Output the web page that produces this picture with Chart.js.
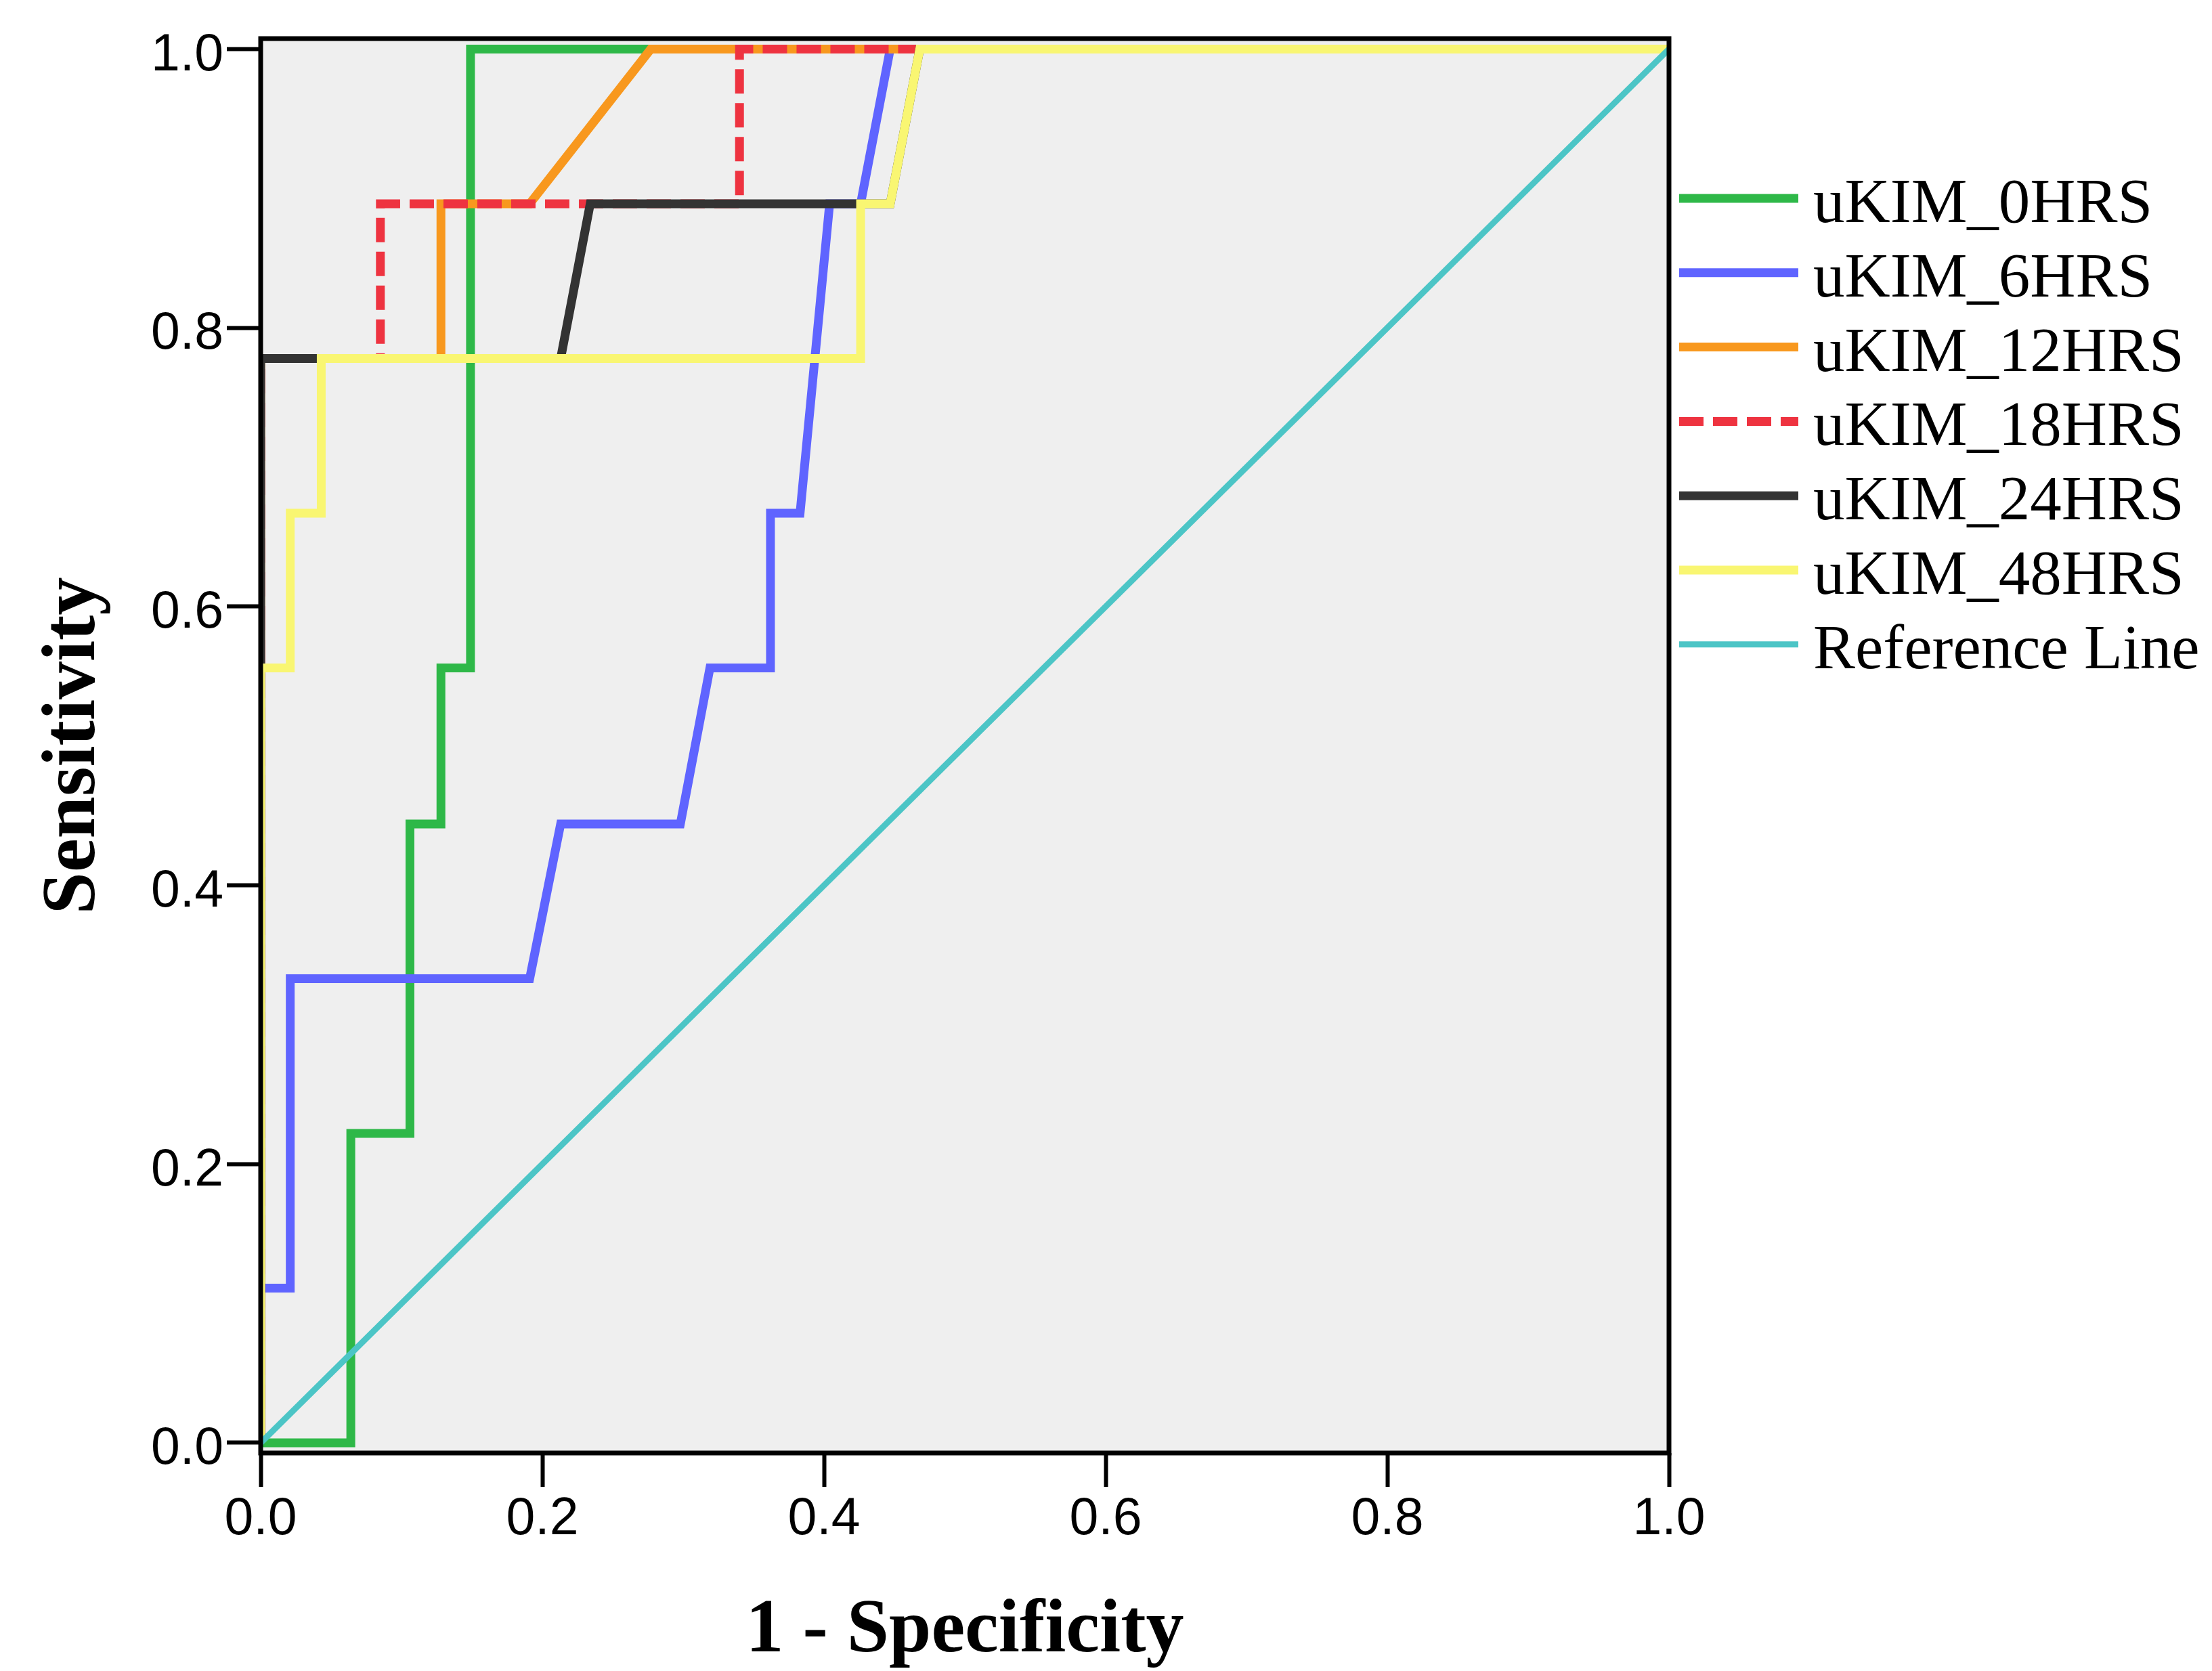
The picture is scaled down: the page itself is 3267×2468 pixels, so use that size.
<!DOCTYPE html>
<html>
<head>
<meta charset="utf-8">
<title>ROC curves - uKIM</title>
<script src="https://cdn.jsdelivr.net/npm/chart.js@4.4.1/dist/chart.umd.min.js"></script>
<style>
  html, body { margin: 0; padding: 0; background: #fff; }
  canvas { display: block; }
</style>
</head>
<body>
<canvas id="rocChart" width="3267" height="2468"></canvas>
<script>
// tick labels
const xTicks = [0.0, 0.2, 0.4, 0.6, 0.8, 1.0];
const yTicks = [0.0, 0.2, 0.4, 0.6, 0.8, 1.0];

const seriesNames = ['uKIM_0HRS', 'uKIM_6HRS', 'uKIM_12HRS', 'uKIM_18HRS', 'uKIM_24HRS', 'uKIM_48HRS', 'Reference Line'];

// 1 - specificity (x) and sensitivity (y), one pair per corner of each curve
const fpr0  = [0, 0.064, 0.064, 0.106, 0.106, 0.128, 0.128, 0.149, 0.149, 1.0];
const sens0 = [0, 0,     0.222, 0.222, 0.444, 0.444, 0.556, 0.556, 1.0,   1.0];

const fpr6  = [0, 0,     0.021, 0.021, 0.191, 0.213, 0.298, 0.319, 0.362, 0.362, 0.383, 0.404, 0.426, 0.447, 1.0];
const sens6 = [0, 0.111, 0.111, 0.333, 0.333, 0.444, 0.444, 0.556, 0.556, 0.667, 0.667, 0.889, 0.889, 1.0,   1.0];

const fpr12  = [0, 0,     0.128, 0.128, 0.191, 0.277, 1.0];
const sens12 = [0, 0.778, 0.778, 0.889, 0.889, 1.0,   1.0];

const fpr18  = [0, 0,     0.085, 0.085, 0.340, 0.340, 1.0];
const sens18 = [0, 0.778, 0.778, 0.889, 0.889, 1.0,   1.0];

const fpr24  = [0, 0,     0.213, 0.234, 0.447, 0.468, 1.0];
const sens24 = [0, 0.778, 0.778, 0.889, 0.889, 1.0,   1.0];

const fpr48  = [0, 0,     0.021, 0.021, 0.043, 0.043, 0.426, 0.426, 0.447, 0.468, 1.0];
const sens48 = [0, 0.556, 0.556, 0.667, 0.667, 0.778, 0.778, 0.889, 0.889, 1.0,   1.0];

const fprRef  = [0, 1.0];
const sensRef = [0, 1.0];

const lineColors = ['#2eb848', '#5f64ff', '#f8981e', '#ee3340', '#333333', '#f9f672', '#4cc5c6'];

function pts(xs, ys) {
    return xs.map((x, i) => ({x: x, y: ys[i]}));
}

const curves = [
    pts(fpr0, sens0), pts(fpr6, sens6), pts(fpr12, sens12), pts(fpr18, sens18),
    pts(fpr24, sens24), pts(fpr48, sens48), pts(fprRef, sensRef)
];

// later series sit on top (lower order is drawn last in chart.js)
const datasets = curves.map((d, i) => ({
    label: seriesNames[i],
    data: d,
    showLine: true,
    borderColor: lineColors[i],
    backgroundColor: lineColors[i],
    borderWidth: i === 6 ? 9 : 13,
    borderDash: i === 3 ? [36, 14] : [],
    borderJoinStyle: 'miter',
    borderCapStyle: 'butt',
    pointRadius: 0,
    tension: 0,
    order: 6 - i
}));

const plotFrame = {
    id: 'plotFrame',
    beforeDatasetsDraw(chart) {
        const a = chart.chartArea, ctx = chart.ctx;
        ctx.save();
        ctx.fillStyle = '#efefef';
        ctx.fillRect(a.left, a.top, a.right - a.left, a.bottom - a.top);
        ctx.restore();
    },
    afterDatasetsDraw(chart) {
        const a = chart.chartArea, ctx = chart.ctx;
        ctx.save();
        ctx.strokeStyle = '#000';
        ctx.lineWidth = 7;
        ctx.strokeRect(a.left, a.top, a.right - a.left, a.bottom - a.top);
        ctx.restore();
    }
};

// legend drawn by hand so the line samples match the spss look
const sideLegend = {
    id: 'sideLegend',
    afterDraw(chart) {
        const a = chart.chartArea, ctx = chart.ctx;
        const x0 = a.right + 15, len = 176, y0 = a.top + 236, step = 109.8;
        ctx.save();
        chart.data.datasets.forEach((ds, i) => {
            const y = y0 + i * step;
            ctx.beginPath();
            ctx.strokeStyle = ds.borderColor;
            ctx.lineWidth = ds.borderWidth;
            ctx.setLineDash(ds.borderDash);
            ctx.moveTo(x0, y);
            ctx.lineTo(x0 + len, y);
            ctx.stroke();
            ctx.setLineDash([]);
            ctx.fillStyle = '#000';
            ctx.font = '93px "Liberation Serif"';
            ctx.textBaseline = 'alphabetic';
            ctx.textAlign = 'left';
            ctx.fillText(ds.label, x0 + len + 22, y + 35);
        });
        ctx.restore();
    }
};

const tickFont = {family: 'Liberation Sans', size: 77};
const titleFont = {family: 'Liberation Serif', size: 112, weight: 'bold', lineHeight: 1};

new Chart(document.getElementById('rocChart'), {
    type: 'scatter',
    data: {datasets: datasets},
    options: {
        responsive: false,
        devicePixelRatio: 1,
        animation: false,
        events: [],
        layout: {padding: {top: 57, right: 802, bottom: 0, left: 0}},
        plugins: {legend: {display: false}, tooltip: {enabled: false}},
        scales: {
            x: {
                type: 'linear',
                min: 0,
                max: 1,
                afterBuildTicks: s => { s.ticks = xTicks.map(v => ({value: v})); },
                afterFit: s => { s.height = 322; },
                border: {display: false},
                grid: {drawOnChartArea: false, drawTicks: true, tickLength: 50, tickWidth: 6, tickColor: '#000'},
                ticks: {
                    autoSkip: false, maxRotation: 0, padding: 3,
                    color: '#000', font: tickFont,
                    callback: v => v.toFixed(1)
                },
                title: {display: true, text: '1 - Specificity', color: '#000', font: titleFont, padding: {top: 0, bottom: 2}}
            },
            y: {
                type: 'linear',
                min: -0.0073,
                max: 1.0075,
                afterBuildTicks: s => { s.ticks = yTicks.map(v => ({value: v})); },
                afterFit: s => { s.width = 385; },
                border: {display: false},
                grid: {drawOnChartArea: false, drawTicks: true, tickLength: 50, tickWidth: 6, tickColor: '#000'},
                ticks: {
                    autoSkip: false, padding: 5, labelOffset: 10,
                    color: '#000', font: tickFont,
                    callback: v => v.toFixed(1)
                },
                title: {display: true, text: 'Sensitivity', color: '#000', font: titleFont, padding: {top: 54, bottom: 0}}
            }
        }
    },
    plugins: [plotFrame, sideLegend]
});
</script>
</body>
</html>
